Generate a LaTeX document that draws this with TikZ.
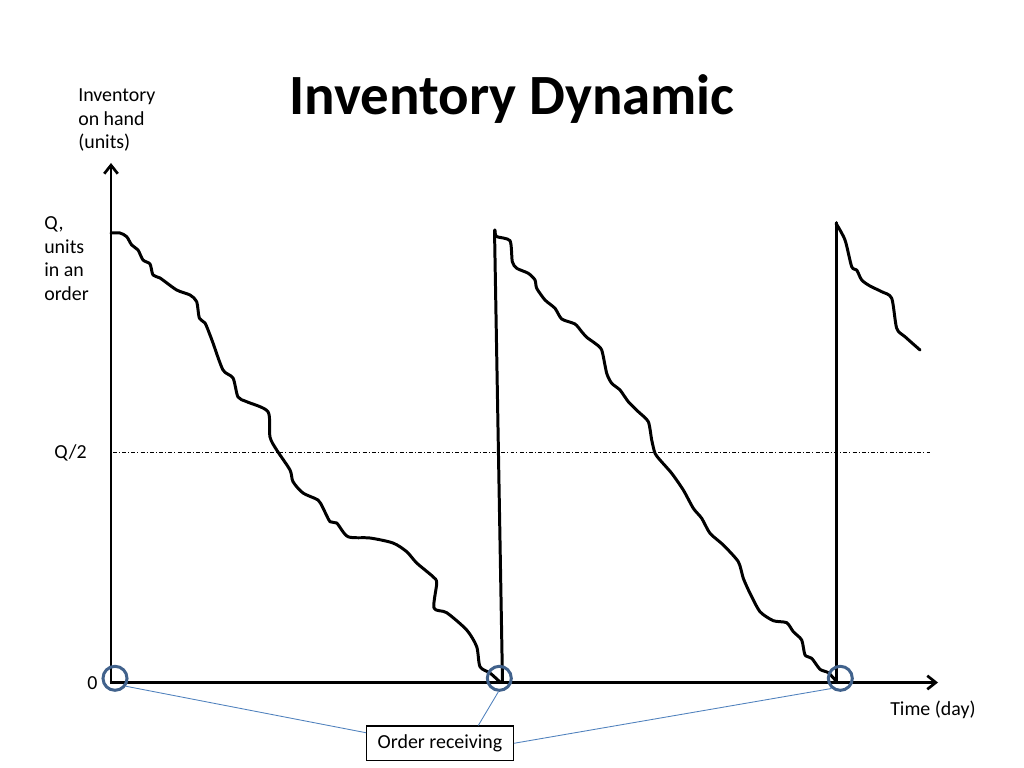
\documentclass[tikz,border=0pt]{standalone}
\usepackage{fontspec}
\setmainfont{Carlito}
\usetikzlibrary{arrows.meta,calc}
\definecolor{circblue}{RGB}{65,98,140}
\definecolor{lineblue}{RGB}{79,129,189}
\begin{document}
\begin{tikzpicture}[x=0.703125pt,y=-0.703125pt,
  axis/.style={line width=2.1pt,-{Straight Barb[length=6pt,width=9.5pt,line width=1.9pt]}},
  stock/.style={line width=2.1pt,line join=round,line cap=round},
  jump/.style={line width=2.1pt,line cap=round},
  halfline/.style={line width=0.6pt,dash pattern=on 2.8pt off 1.4pt on 0.7pt off 1.6pt},
  ringnode/.style={circle,draw=circblue,line width=2.1pt,minimum size=16.9pt,inner sep=0pt},
  callout/.style={draw=lineblue,line width=0.6pt},
  labelbox/.style={draw,line width=0.9pt,fill=white,minimum width=103pt,minimum height=24.2pt,inner sep=0pt,font=\fontsize{14}{16.5}\selectfont},
  lbl/.style={inner sep=0pt,font=\fontsize{14}{16.5}\selectfont},
  titletext/.style={inner sep=0pt,font=\fontsize{40}{48}\selectfont\bfseries}
]
\fill[white] (0,0) rectangle (1024,768);
\useasboundingbox (0,0) rectangle (1024,768);

% title
\node[titletext,anchor=base] (title) at (512,115) {Inventory Dynamic};

% axes
\coordinate (O) at (111,682.5);
\coordinate (ytop) at (111,163);
\coordinate (xend) at (938,682.5);
\draw[axis] ([yshift=-1pt]O) -- (ytop);
\draw[axis] ([xshift=-1pt]O) -- (xend);

% axis labels
\node[lbl,align=left,anchor=north west] (ylab) at (78,88.5) {Inventory\\on hand\\(units)};
\node[lbl,align=left,anchor=north west] (qlab) at (44,216.5) {Q,\\units\\in an\\order};
\node[lbl,anchor=base west] (q2lab) at (54,458) {Q/2};
\node[lbl,anchor=base west] (zlab) at (87,689.3) {0};
\node[lbl,anchor=base west] (tlab) at (890,715) {Time (day)};

% Q/2 level
\coordinate (h1) at (113,452.5);
\coordinate (h2) at (930,452.5);
\draw[halfline] (h1) -- (h2);

% stock curves
\draw[stock] plot[smooth,tension=0.45] coordinates {
(111,233) (120,233) (126.7,236.7) (131.7,245) (138,250) (143,260) (150,264) (153,275) (160,278)
(176.7,290) (190,295) (196.7,301.7) (199.3,318) (205,323) (210,335) (213,343) (223,370) (233,378)
(238,397) (246.7,401.7) (268,411.7) (270,437) (276.7,450) (290,470) (293,481.7) (303,493) (318,500)
(323,508) (330,521.7) (336.7,523) (348,536.7) (370,538) (393,543) (406.7,551.7) (416.7,563)
(433,576.7) (436.7,583) (434,608) (446.7,612.7) (466.7,630) (476.7,646.7) (480,666.7) (490,673) (500,682)};

\coordinate (r1b) at (502.5,682);
\coordinate (r1t) at (494.5,230);
\draw[jump] (r1b) -- (r1t);

\draw[stock] plot[smooth,tension=0.4] coordinates {
(495,230) (496.5,236.5) (510,240.7) (512.3,261.7) (516.7,268.3) (528.3,273.3) (535,280) (536.7,288.3)
(545,300) (555,308.3) (561.7,319) (575,324) (581.7,331.7) (586.7,337.3) (595,343.3) (601.7,350)
(606.7,373.3) (611.7,383.3) (620,390) (628.3,401.7) (638.3,411.7) (648.3,421.7) (651.7,440)
(655,453.3) (660,460) (671.7,473.3) (683.3,490) (693.3,508.3) (701.7,518.3) (710,533.3) (723.3,545)
(738.3,561.7) (743.3,578.3) (750,593.3) (760,611.7) (773.3,620.7) (786.7,622.7) (793.3,631.7)
(801.7,640) (805,655) (811.7,658.3) (820,669.3) (828.3,672.7) (836.7,681.7)};

\coordinate (r2b) at (836,682);
\coordinate (r2t) at (836,222.7);
\draw[jump] (r2b) -- (r2t);

\draw[stock] plot[smooth,tension=0.45] coordinates {
(836,223.3) (845,240) (851.7,266.7) (856.7,270) (861.7,280) (870,286) (881.7,291.7) (891.7,298.3)
(896.7,328.3) (905,336.7) (920,350)};

% order receiving markers
\node[ringnode] (c1) at (115,678.3) {};
\node[ringnode] (c2) at (499.3,678.3) {};
\node[ringnode] (c3) at (840.3,678.3) {};

\node[labelbox] (box) at (440,743.3) {Order receiving};

\draw[callout] (c1.-36) -- ($(box.north west)+(0,7.3)$);
\draw[callout] (c2.-94) -- ($(box.north)+(38.3,0)$);
\draw[callout] (c3.-131) -- (box.east);
\end{tikzpicture}
\end{document}
